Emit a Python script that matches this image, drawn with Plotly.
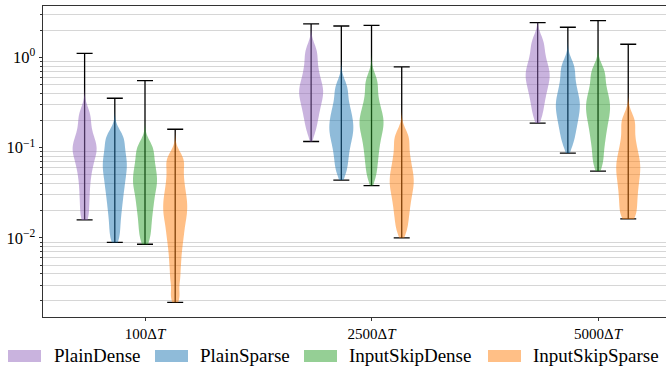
import numpy as np
import plotly.graph_objects as go

# ---------------- data ----------------
categories = ["100Δ<i>T</i>", "2500Δ<i>T</i>", "5000Δ<i>T</i>"]
series = ["PlainDense", "PlainSparse", "InputSkipDense", "InputSkipSparse"]
colors = ["#9467bd", "#1f77b4", "#2ca02c", "#ff7f0e"]

# representative samples of the error per category (100, 2500, 5000 ΔT)
plain_dense = [
    [0.251, 0.209, 0.166, 0.138, 0.120, 0.107, 0.0977, 0.0891, 0.0794, 0.0692, 0.0589, 0.0490, 0.0389, 0.0302, 0.0229, 0.0170],
    [1.26, 1.07, 0.851, 0.708, 0.603, 0.525, 0.468, 0.427, 0.389, 0.347, 0.309, 0.269, 0.229, 0.191, 0.151],
    [1.58, 1.38, 1.12, 0.955, 0.832, 0.741, 0.676, 0.617, 0.562, 0.501, 0.447, 0.389, 0.331, 0.275, 0.219],
]
plain_sparse = [
    [0.141, 0.126, 0.105, 0.0891, 0.0776, 0.0676, 0.0603, 0.0525, 0.0457, 0.0389, 0.0331, 0.0275, 0.0224, 0.0178, 0.0135, 0.0100],
    [0.501, 0.417, 0.331, 0.275, 0.240, 0.209, 0.186, 0.166, 0.148, 0.132, 0.115, 0.0977, 0.0813, 0.0661, 0.0525],
    [0.851, 0.724, 0.575, 0.479, 0.407, 0.355, 0.316, 0.282, 0.251, 0.219, 0.191, 0.162, 0.135, 0.107],
]
input_skip_dense = [
    [0.107, 0.0955, 0.0794, 0.0676, 0.0589, 0.0513, 0.0457, 0.0407, 0.0363, 0.0316, 0.0269, 0.0229, 0.0191, 0.0155, 0.0123, 0.00955],
    [0.589, 0.479, 0.372, 0.302, 0.257, 0.224, 0.200, 0.178, 0.158, 0.138, 0.117, 0.0977, 0.0794, 0.0631, 0.0479],
    [0.741, 0.631, 0.501, 0.417, 0.363, 0.316, 0.282, 0.251, 0.219, 0.191, 0.162, 0.135, 0.110, 0.0851, 0.0646],
]
input_skip_sparse = [
    [0.0794, 0.0676, 0.0525, 0.0417, 0.0339, 0.0282, 0.0240, 0.0204, 0.0174, 0.0145, 0.0117, 0.00933, 0.00708, 0.00513, 0.00355, 0.00224],
    [0.141, 0.117, 0.0912, 0.0741, 0.0617, 0.0525, 0.0457, 0.0398, 0.0347, 0.0295, 0.0245, 0.0200, 0.0158, 0.0120],
    [0.214, 0.174, 0.132, 0.105, 0.0871, 0.0741, 0.0646, 0.0562, 0.0490, 0.0417, 0.0355, 0.0295, 0.0245, 0.0200, 0.0166],
]

# extremes (whisker ends) per category
plain_dense_min = [0.0158, 0.117, 0.187]
plain_dense_max = [1.11, 2.35, 2.43]
plain_sparse_min = [0.0089, 0.0437, 0.087]
plain_sparse_max = [0.353, 2.23, 2.16]
input_skip_dense_min = [0.0085, 0.038, 0.055]
input_skip_dense_max = [0.553, 2.27, 2.56]
input_skip_sparse_min = [0.00193, 0.010, 0.0162]
input_skip_sparse_max = [0.160, 0.785, 1.40]

samples = [plain_dense, plain_sparse, input_skip_dense, input_skip_sparse]
mins = [plain_dense_min, plain_sparse_min, input_skip_dense_min, input_skip_sparse_min]
maxs = [plain_dense_max, plain_sparse_max, input_skip_dense_max, input_skip_sparse_max]

# ---------------- layout constants ----------------
FONT = "Liberation Serif"
W, H = 666, 369
ML, MR, MT, MB = 43, 0, 6, 52
OFFSET = 0.1333          # spacing between violins inside a group
VIOLIN_W = 0.106
Y_RANGE = [-2.877, 0.570]  # log10 range
X_RANGE = [-0.4503, 2.30]


def rgba(hex_color, a):
    h = hex_color.lstrip("#")
    r, g, b = int(h[0:2], 16), int(h[2:4], 16), int(h[4:6], 16)
    return f"rgba({r},{g},{b},{a})"


fig = go.Figure()

# whiskers (base subplot, below the violins)
for j, name in enumerate(series):
    xs = [g + (j - 2) * OFFSET for g in range(len(categories))]
    lo = np.log10(mins[j])
    hi = np.log10(maxs[j])
    fig.add_trace(go.Scatter(
        x=xs, y=lo, mode="markers",
        marker=dict(size=1, color="rgba(0,0,0,0)"),
        error_y=dict(type="data", symmetric=False, array=list(hi - lo),
                     arrayminus=[0] * len(xs), color="#000000",
                     thickness=1.3, width=8),
        showlegend=False, hoverinfo="skip", xaxis="x", yaxis="y",
    ))

# violins (overlaying subplot, on top of whiskers)
for j, name in enumerate(series):
    for g in range(len(categories)):
        vals = np.log10(samples[j][g])
        fig.add_trace(go.Violin(
            x0=g + (j - 2) * OFFSET, y=vals, name=name,
            spanmode="manual",
            span=[float(np.log10(mins[j][g])), float(np.log10(maxs[j][g]))],
            bandwidth=0.088, width=VIOLIN_W, scalemode="width",
            line=dict(width=0, color="rgba(0,0,0,0)"),
            fillcolor=rgba(colors[j], 0.5),
            points=False, box_visible=False, meanline_visible=False,
            showlegend=False, xaxis="x", yaxis="y2",
        ))

# y ticks: majors labelled, minors with grid
major_vals = [-2, -1, 0]
major_text = ["10<sup>−2</sup>", "10<sup>−1</sup>", "10<sup>0</sup>"]
minor_vals = [d + np.log10(k) for d in range(-3, 1) for k in range(2, 10)
              if Y_RANGE[0] <= d + np.log10(k) <= Y_RANGE[1]]

fig.update_layout(
    width=W, height=H,
    margin=dict(l=ML, r=MR, t=MT, b=MB, pad=0, autoexpand=False),
    paper_bgcolor="white", plot_bgcolor="white",
    font=dict(family=FONT, color="#000000"),
    violinmode="overlay",
    showlegend=False,
    xaxis=dict(
        type="linear", range=X_RANGE, tickmode="array", automargin=False,
        tickvals=list(range(len(categories))), ticktext=categories,
        tickfont=dict(family=FONT, size=15, color="#000"),
        showgrid=False, zeroline=False,
        showline=True, linecolor="#333333", linewidth=1, mirror=True,
        ticks="outside", ticklen=3, tickwidth=1, tickcolor="#333333",
    ),
    yaxis=dict(
        type="linear", range=Y_RANGE, tickmode="array", automargin=False,
        tickvals=major_vals, ticktext=major_text,
        tickfont=dict(family=FONT, size=16.5, color="#000"),
        showgrid=False, zeroline=False,
        showline=True, linecolor="#333333", linewidth=1,
        ticks="outside", ticklen=3.5, tickwidth=1, tickcolor="#333333",
        minor=dict(tickmode="array", tickvals=minor_vals, ticks="outside",
                   ticklen=2, tickwidth=0.8, tickcolor="#333333",
                   showgrid=True, gridcolor="#d6d6d6", gridwidth=1),
    ),
    yaxis2=dict(
        type="linear", range=Y_RANGE, overlaying="y", visible=False,
        showgrid=False, zeroline=False, automargin=False,
    ),
)

# legend (rectangular swatches as in the original)
def px_x(X):
    return (X - ML) / (W - ML - MR)


def px_y(Y):
    return (H - MB - Y) / (H - MB - MT)


swatch_left = [8, 155, 304, 488]
text_left = [53, 199, 348, 532]
for j, name in enumerate(series):
    fig.add_shape(type="rect", xref="paper", yref="paper",
                  x0=px_x(swatch_left[j]), x1=px_x(swatch_left[j] + 33),
                  y0=px_y(350), y1=px_y(362),
                  fillcolor=rgba(colors[j], 0.5), line=dict(width=0))
    fig.add_annotation(xref="paper", yref="paper", x=px_x(text_left[j]),
                       y=px_y(355.5), text=name, showarrow=False,
                       xanchor="left", yanchor="middle", borderpad=0,
                       font=dict(family=FONT, size=19, color="#000"))

fig.write_html("out.html",
               config={"displayModeBar": False},
               post_script="document.body.style.margin='0px';"
                           "document.body.style.padding='0px';")
